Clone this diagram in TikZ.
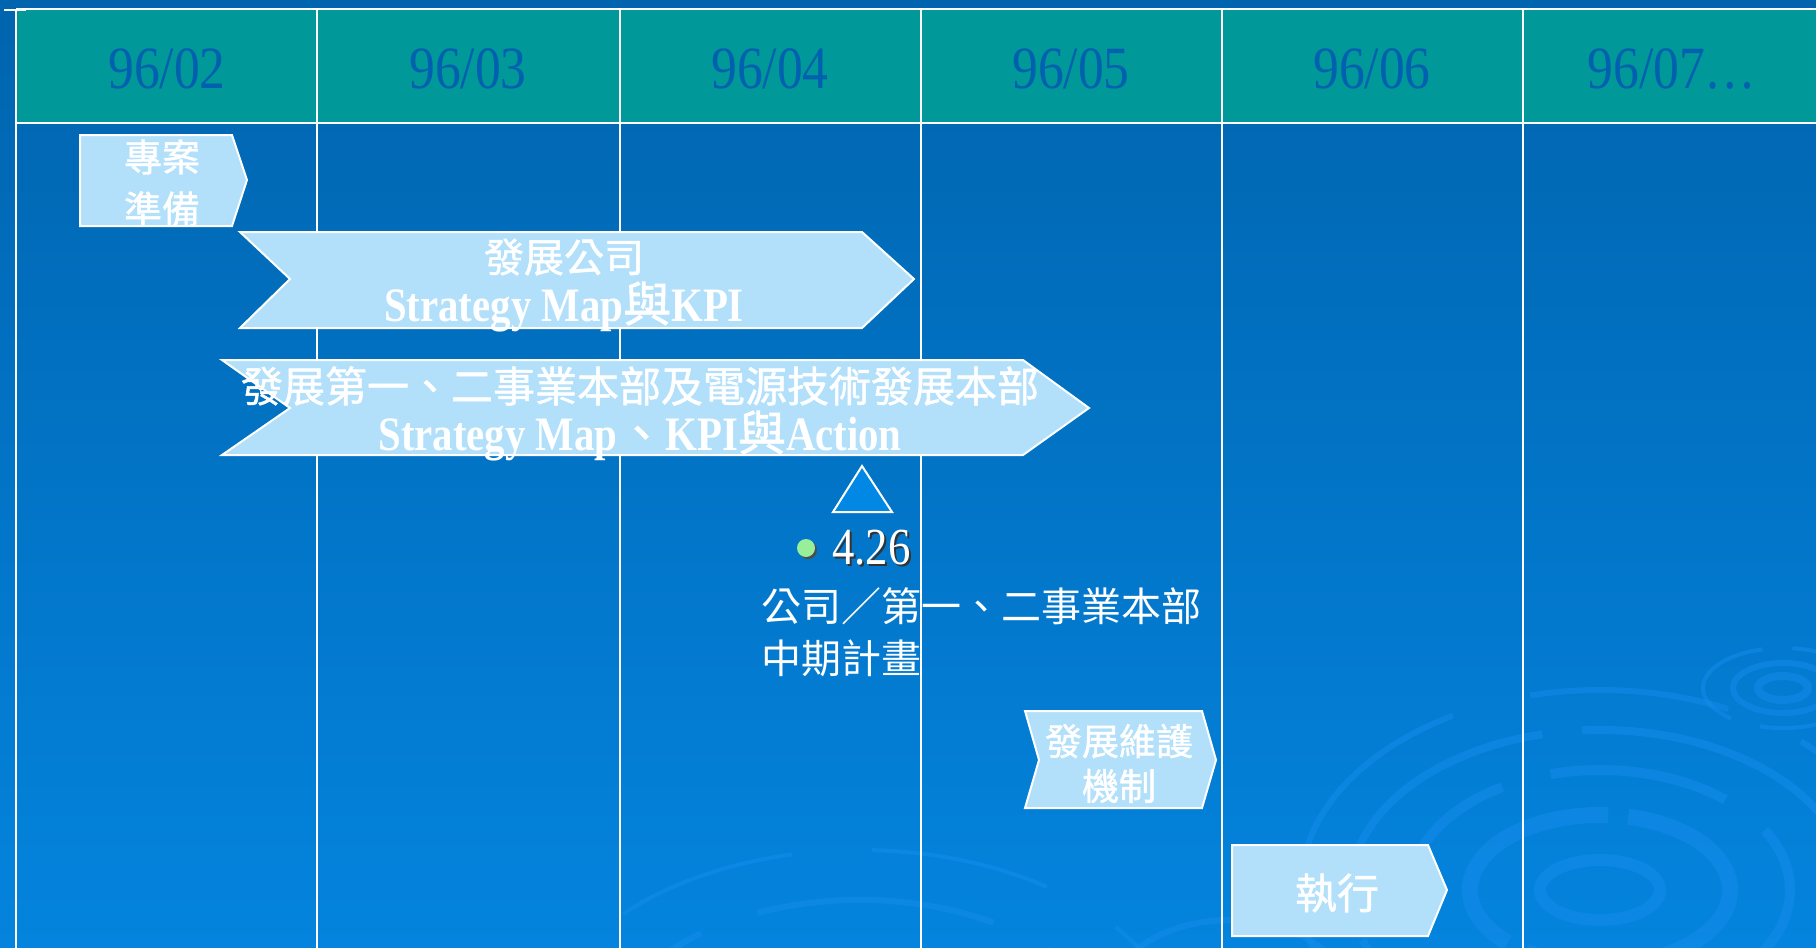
\documentclass[tikz,border=0pt]{standalone}
\usepackage{fontspec}
\setmainfont{Liberation Serif}[FakeStretch=0.86,BoldFont={Liberation Serif Bold},BoldFeatures={FakeStretch=0.85}]
\newfontfamily\cjk{Noto Sans CJK TC}
\newfontfamily\cjkb{Noto Sans CJK TC}[FakeBold=1.2]
\definecolor{bgtop}{RGB}{0,100,174}
\definecolor{bgbot}{RGB}{4,132,222}
\definecolor{hdrfill}{RGB}{0,152,152}
\definecolor{hdrtext}{RGB}{0,96,176}
\definecolor{boxfill}{RGB}{178,224,250}
\definecolor{trifill}{RGB}{0,136,228}
\definecolor{bullet}{RGB}{153,238,153}
\definecolor{ripple}{RGB}{20,140,235}
\newcommand{\cj}[1]{{\cjkb\mdseries #1}}
\begin{document}
\begin{tikzpicture}[x=0.5pt,y=-0.5pt,
  box/.style={fill=boxfill,draw=white,line width=1pt,line join=miter},
  gridline/.style={draw=white,line width=1.2pt},
  hdr/.style={text=hdrtext,anchor=base,font=\fontsize{30}{30}\selectfont},
  btxt/.style={text=white,anchor=center,inner sep=0pt},
  rip/.style={draw=ripple,opacity=0.55,line width=4pt}]
\useasboundingbox (0,0) rectangle (1816,948);
\shade[top color=bgtop,bottom color=bgbot] (0,0) rectangle (1816,948);
% ripples
\begin{scope}
\clip (0,0) rectangle (1816,948);
\draw[rip,line width=6pt] (1600,890) ellipse [x radius=60,y radius=30];
\draw[rip,line width=8pt,dash pattern=on 120pt off 10pt] (1600,890) ellipse [x radius=130,y radius=75];
\draw[rip,line width=5pt,dash pattern=on 90pt off 25pt] (1600,890) ellipse [x radius=190,y radius=120];
\draw[rip,line width=4pt,dash pattern=on 140pt off 20pt] (1600,890) ellipse [x radius=250,y radius=160];
\draw[rip,line width=3pt,dash pattern=on 100pt off 40pt] (1600,890) ellipse [x radius=300,y radius=200];
\draw[rip,line width=4pt] (1783,688) ellipse [x radius=25,y radius=12];
\draw[rip,line width=3pt] (1783,688) ellipse [x radius=50,y radius=25];
\draw[rip,line width=2pt,dash pattern=on 60pt off 15pt] (1783,688) ellipse [x radius=80,y radius=40];
\draw[rip,line width=3pt,dash pattern=on 120pt off 30pt] (860,1060) ellipse [x radius=260,y radius=160];
\draw[rip,line width=2pt,dash pattern=on 90pt off 40pt] (860,1060) ellipse [x radius=330,y radius=210];
\draw[rip,line width=3pt,dash pattern=on 60pt off 30pt] (1230,1000) ellipse [x radius=120,y radius=80];
\end{scope}
% header
\fill[hdrfill] (16,9) rectangle (1816,123);
\draw[gridline] (16,9) -- (1816,9);
\draw[gridline] (16,123) -- (1816,123);
\draw[gridline] (4,10) -- (26,10);
\foreach \x in {16,317,620,921,1222,1523} \draw[gridline] (\x,9) -- (\x,948);
\node[hdr] (h1) at (167,88) {96/02};
\node[hdr] (h2) at (468,88) {96/03};
\node[hdr] (h3) at (770,88) {96/04};
\node[hdr] (h4) at (1071,88) {96/05};
\node[hdr] (h5) at (1372,88) {96/06};
\node[hdr] (h6) at (1672,88) {96/07\ldots};
% box 1
\draw[box] (80,135) -- (232,135) -- (247,180) -- (232,226) -- (80,226) -- cycle;
\node[btxt,font=\cjkb\fontsize{19}{19}\selectfont] (b1a) at (162,157) {專案};
\node[btxt,font=\cjkb\fontsize{19}{19}\selectfont] (b1b) at (162,209) {準備};
% box 2
\draw[box] (240,232) -- (862,232) -- (914,279) -- (862,328) -- (240,328) -- (290,279) -- cycle;
\node[btxt,font=\cjkb\fontsize{20}{20}\selectfont] (b2a) at (564,257) {發展公司};
\node[btxt,font=\bfseries\fontsize{24}{24}\selectfont] (b2b) at (564,307) {Strategy Map\cj{與}KPI};
% box 3
\draw[box] (222,360) -- (1023,360) -- (1089,408) -- (1023,455) -- (222,455) -- (290,408) -- cycle;
\node[btxt,font=\cjkb\fontsize{21}{21}\selectfont] (b3a) at (640,386) {發展第一、二事業本部及電源技術發展本部};
\node[btxt,font=\bfseries\fontsize{24}{24}\selectfont] (b3b) at (640,436) {Strategy Map\cj{、}KPI\cj{與}Action};
% milestone
\draw[fill=trifill,draw=white,line width=1pt] (862,466) -- (892,512) -- (833,512) -- cycle;
\fill[black!70] (808,550) circle (9);
\fill[bullet] (806,548) circle (9);
\node[anchor=base west,inner sep=0pt,text=black!80,font=\fontsize{26}{26}\selectfont] (d0) at (834,566) {4.26};
\node[anchor=base west,inner sep=0pt,text=white,font=\fontsize{26}{26}\selectfont] (d1) at (832,564) {4.26};
\node[anchor=west,inner sep=0pt,text=white,font=\cjk\fontsize{20}{20}\selectfont] (n1) at (761,606) {公司／第一、二事業本部};
\node[anchor=west,inner sep=0pt,text=white,font=\cjk\fontsize{20}{20}\selectfont] (n2) at (761,658) {中期計畫};
% box 7
\draw[box] (1025,711) -- (1202,711) -- (1216,760) -- (1202,808) -- (1025,808) -- (1039,760) -- cycle;
\node[btxt,font=\cjkb\fontsize{18.5}{18.5}\selectfont] (b7a) at (1119,741) {發展維護};
\node[btxt,font=\cjkb\fontsize{18.5}{18.5}\selectfont] (b7b) at (1119,786) {機制};
% box 8
\draw[box] (1232,845) -- (1428,845) -- (1447,890) -- (1428,936) -- (1232,936) -- cycle;
\node[btxt,font=\cjkb\fontsize{21}{21}\selectfont] (b8) at (1337,893) {執行};
\end{tikzpicture}
\end{document}
